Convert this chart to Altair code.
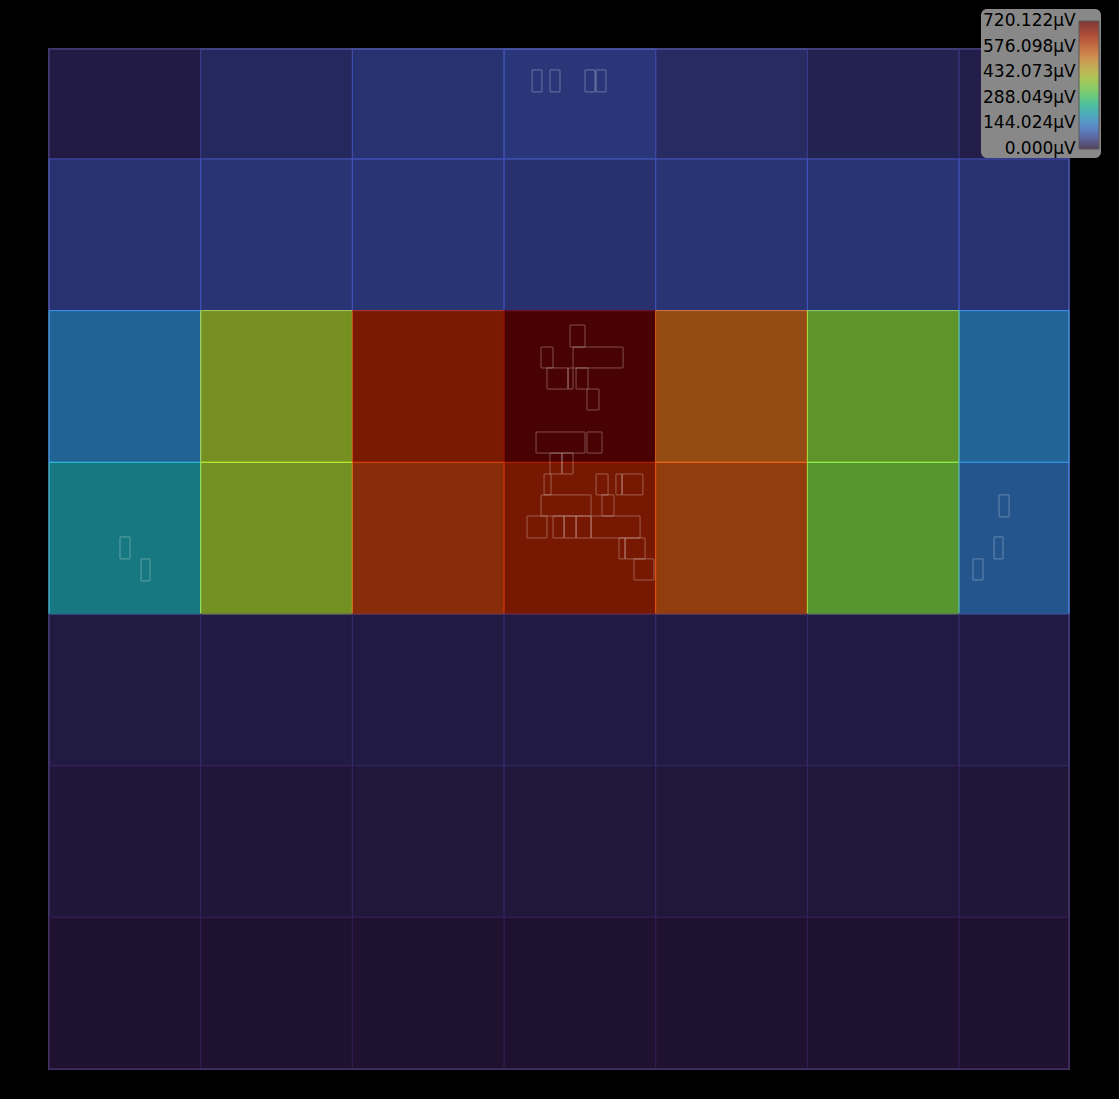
import altair as alt
import pandas as pd

# ---------------- data ----------------
VMAX = 720.122          # colour-scale maximum (µV)
SPAN = 67.25            # extent of the map in both directions (data units)
CELL = 10.0             # size of one tile (data units)

# tile values in µV, rows listed from top to bottom, columns left to right
cell_values = [
    [27, 48, 65, 73, 53, 40, 32],
    [66, 68, 68, 64, 68, 69, 66],
    [155, 396, 638, 720.122, 540, 362, 157],
    [201, 392, 599, 645, 567, 347, 128],
    [25, 26, 26, 27, 26, 26, 27],
    [19, 19, 20, 20, 20, 20, 19],
    [11, 12, 12, 12, 12, 12, 11],
]

# legend tick values (end ticks nudged inside so they are centred on the ramp ends)
legend_ticks = [0.0001, 144.0244, 288.0488, 432.0732, 576.0976, 720.1219]

turbo_colors = ["#30123b", "#4662d7", "#36aaf9", "#1ae4b6", "#72fe5e",
                "#c7ef34", "#faba39", "#f66b19", "#cb2a04", "#7a0403"]

# outlined label boxes (data units)
box_x0 = [31.85, 33.03, 35.34, 36.07,
          34.35, 32.44, 34.55, 32.83, 34.22, 34.75, 35.47, 32.11, 35.47,
          33.03, 33.82, 32.64, 36.07, 37.38, 37.78, 32.44, 36.46,
          31.52, 33.23, 33.96, 34.75, 35.74, 37.58, 37.98, 38.57,
          62.64, 62.31, 60.92, 4.68, 6.07]
box_x1 = [32.50, 33.69, 36.00, 36.72,
          35.34, 33.23, 37.85, 34.22, 34.55, 35.54, 36.26, 35.34, 36.46,
          33.82, 34.55, 33.10, 36.86, 37.78, 39.16, 35.74, 37.25,
          32.83, 33.96, 34.75, 35.74, 38.97, 37.98, 39.30, 39.89,
          63.30, 62.90, 61.58, 5.34, 6.66]
box_y0 = [64.42, 64.42, 64.42, 64.42,
          47.60, 46.22, 46.22, 44.83, 44.83, 44.83, 43.45, 40.61, 40.61,
          39.23, 39.23, 37.85, 37.85, 37.85, 37.85, 36.46, 36.46,
          35.01, 35.01, 35.01, 35.01, 35.01, 33.63, 33.63, 32.24,
          36.40, 33.63, 32.24, 33.63, 32.18]
box_y1 = [65.87, 65.87, 65.87, 65.87,
          49.05, 47.60, 47.60, 46.22, 46.22, 46.22, 44.83, 42.00, 42.00,
          40.61, 40.61, 39.23, 39.23, 39.23, 39.23, 37.85, 37.85,
          36.46, 36.46, 36.46, 36.46, 36.46, 35.01, 35.01, 33.63,
          37.85, 35.08, 33.63, 35.08, 33.63]

# ---------------- tables ----------------
rows = []
n_rows = len(cell_values)
for i, row in enumerate(cell_values):
    r = n_rows - 1 - i
    for c, v in enumerate(row):
        x0 = c * CELL
        y0 = r * CELL
        rows.append({"x0": x0, "x1": min(x0 + CELL, SPAN),
                     "y0": y0, "y1": min(y0 + CELL, SPAN), "value": v})
cells = pd.DataFrame(rows)

boxes = pd.DataFrame({"x0": box_x0, "x1": box_x1, "y0": box_y0, "y1": box_y1})

# ---------------- chart ----------------
xs = alt.Scale(domain=[0, SPAN], nice=False, zero=False)
ys = alt.Scale(domain=[0, SPAN], nice=False, zero=False)


def cscale():
    return alt.Scale(domain=[0, VMAX], range=turbo_colors, interpolate="rgb")


ZW = "\u200b"   # zero-width guard so the padding is not trimmed
FIG = "\u2007"  # figure space (digit width) to right-align the labels
label_expr = (
    f"(datum.value < 10 ? '{ZW}{FIG}{FIG}' : datum.value < 100 ? '{ZW}{FIG}' : '')"
    " + format(datum.value, '.3f') + 'µV'"
)

legend = alt.Legend(
    type="gradient",
    orient="none", legendX=1030, legendY=-28, direction="vertical", title=None,
    values=legend_ticks,
    labelExpr=label_expr,
    gradientLength=128, gradientThickness=20,
    gradientStrokeColor="#3a3a3a", gradientStrokeWidth=1, gradientOpacity=0.6,
    labelOffset={"expr": "-116"},
    labelFontSize=17, labelFont="DejaVu Sans", labelColor="black",
    labelOverlap=False, labelLimit=300, padding=0,
)

pos = dict(
    x=alt.X("x0:Q", scale=xs, axis=None),
    x2="x1:Q",
    y=alt.Y("y0:Q", scale=ys, axis=None),
    y2="y1:Q",
)

tiles = alt.Chart(cells).mark_rect(fillOpacity=0.6, strokeWidth=0).encode(
    color=alt.Color("value:Q", scale=cscale(), legend=legend), **pos
)

edges = alt.Chart(cells).mark_rect(
    filled=False, strokeOpacity=0.85, strokeWidth=1
).encode(
    color=alt.Color("value:Q", scale=cscale(), legend=None), **pos
)

labels = alt.Chart(boxes).mark_rect(
    filled=False, stroke="white", strokeOpacity=0.3, strokeWidth=1, cornerRadius=0.5
).encode(**pos)

# grey panel behind the colour-bar legend
legend_panel = alt.Chart(pd.DataFrame({"k": [0]})).mark_rect(
    fill="#888888", cornerRadius=6
).encode(
    x=alt.value(932), x2=alt.value(1052), y=alt.value(-40), y2=alt.value(109)
)

chart = alt.layer(tiles, edges, labels, legend_panel).resolve_scale(
    color="independent"
).properties(
    width=1020, height=1020,
    padding={"left": 49, "top": 49, "right": 50, "bottom": 30},
    autosize=alt.AutoSizeParams(type="none"),
    background="black",
).configure_view(stroke="#4a4266", strokeWidth=2)

chart.save("out.html", embed_options={"renderer": "svg", "actions": False})
